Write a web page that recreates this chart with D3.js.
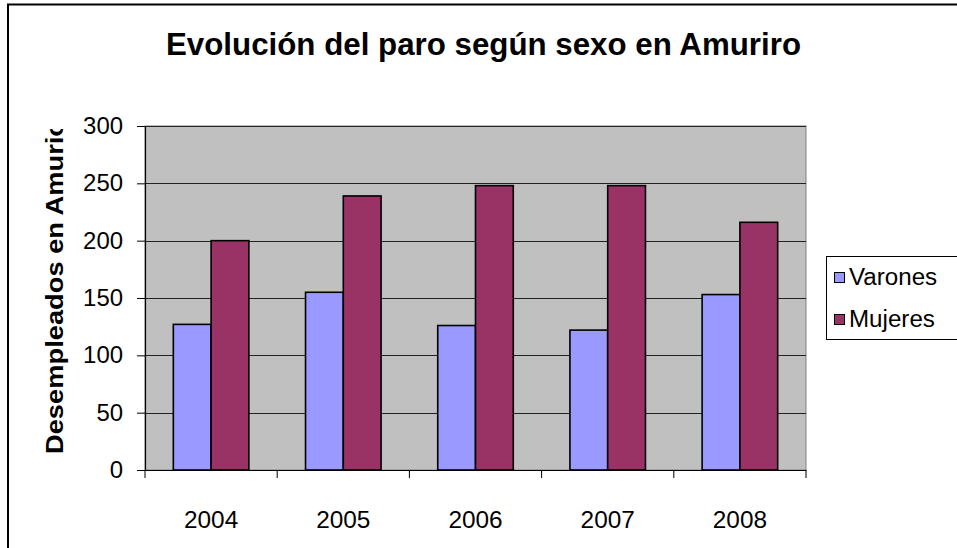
<!DOCTYPE html>
<html>
<head>
<meta charset="utf-8">
<script src="https://cdn.jsdelivr.net/npm/d3@7"></script>
<style>
  html, body { margin: 0; padding: 0; background: #fff; }
  svg { display: block; }
  text { font-family: "Liberation Sans", Arial, sans-serif; }
</style>
</head>
<body>
<svg id="chart" width="957" height="548"></svg>
<script>
const title = "Evolución del paro según sexo en Amuriro";
const yAxisTitle = "Desempleados en Amurio";
const categories = ["2004", "2005", "2006", "2007", "2008"];
const seriesNames = ["Varones", "Mujeres"];
const varones = [127, 155, 126, 122, 153];
const mujeres = [200, 239, 248, 248, 216];
const yTicks = [0, 50, 100, 150, 200, 250, 300];
const colors = ["#9999FF", "#993366"];

const seriesValues = [varones, mujeres];
const data = categories.map((c, i) => ({
  cat: c,
  values: seriesNames.map((s, j) => ({ key: s, value: seriesValues[j][i] }))
}));

const FONT = "Liberation Sans, Arial, sans-serif";
function stretch(sel, f) {
  sel.each(function () {
    const L = this.getComputedTextLength();
    d3.select(this).attr("textLength", L * f).attr("lengthAdjust", "spacingAndGlyphs");
  });
}

const svg = d3.select("#chart");
const W = 957, H = 548;
const plot = { left: 145, right: 806, top: 126, bottom: 470 };

// outer chart border
svg.append("rect")
  .attr("x", 8).attr("y", 4.5)
  .attr("width", W + 20).attr("height", H + 20)
  .attr("fill", "#fff").attr("stroke", "#000").attr("stroke-width", 2);

const x = d3.scaleBand().domain(categories).range([plot.left, plot.right]).paddingInner(0).paddingOuter(0);
const x1 = d3.scaleBand().domain(seriesNames).range([0, x.bandwidth()]).paddingInner(0).paddingOuter(0.75);
const y = d3.scaleLinear().domain([0, 300]).range([plot.bottom, plot.top]);

// plot background
svg.append("rect")
  .attr("x", plot.left).attr("y", plot.top)
  .attr("width", plot.right - plot.left).attr("height", plot.bottom - plot.top)
  .attr("fill", "#C0C0C0").attr("stroke", "#808080").attr("stroke-width", 1);

// gridlines
svg.append("g").selectAll("line")
  .data(yTicks.filter(d => d > 0))
  .join("line")
  .attr("x1", plot.left).attr("x2", plot.right)
  .attr("y1", d => Math.round(y(d)) + 0.5).attr("y2", d => Math.round(y(d)) + 0.5)
  .attr("stroke", "#222").attr("stroke-width", 1);

// bars
const groups = svg.append("g").selectAll("g")
  .data(data).join("g")
  .attr("transform", d => `translate(${x(d.cat)},0)`);
groups.selectAll("rect")
  .data(d => d.values).join("rect")
  .attr("x", d => x1(d.key))
  .attr("y", d => y(d.value))
  .attr("width", x1.bandwidth())
  .attr("height", d => y(0) - y(d.value))
  .attr("fill", (d, i) => colors[i])
  .attr("stroke", "#000").attr("stroke-width", 1.6);

// y axis
const yAxis = d3.axisLeft(y).tickValues(yTicks).tickSize(8).tickPadding(14).tickFormat(d3.format("d"));
const gy = svg.append("g").attr("transform", `translate(${plot.left},0)`).call(yAxis);
gy.attr("font-family", FONT).attr("font-size", 23);
gy.select(".domain").attr("stroke", "#000").attr("stroke-width", 1.2);
gy.selectAll(".tick line").attr("stroke", "#000");
gy.selectAll(".tick text").attr("fill", "#000").call(stretch, 1.04);

// x axis
const xAxis = d3.axisBottom(x).tickSize(0).tickPadding(0);
const gx = svg.append("g").attr("transform", `translate(0,${plot.bottom})`).call(xAxis);
gx.attr("font-family", FONT).attr("font-size", 23);
gx.select(".domain").attr("stroke", "#000").attr("stroke-width", 1.2);
gx.selectAll(".tick text").attr("fill", "#000").attr("dy", null).attr("y", 58)
  .call(stretch, 1.06);
// category boundary ticks
gx.append("g").selectAll("line")
  .data(categories.concat(["end"]))
  .join("line")
  .attr("x1", (d, i) => i < categories.length ? x(d) : plot.right)
  .attr("x2", (d, i) => i < categories.length ? x(d) : plot.right)
  .attr("y1", 0).attr("y2", 8)
  .attr("stroke", "#000");

// title
svg.append("text")
  .attr("x", 483.5).attr("y", 55)
  .attr("text-anchor", "middle")
  .attr("font-size", 31).attr("font-weight", "bold")
  .attr("fill", "#000")
  .attr("textLength", 635).attr("lengthAdjust", "spacingAndGlyphs")
  .text(title);

// y axis title (clipped at top)
svg.append("clipPath").attr("id", "ytclip")
  .append("rect").attr("x", 0).attr("y", 129).attr("width", 120).attr("height", 400);
svg.append("g").attr("clip-path", "url(#ytclip)")
  .append("text")
  .attr("transform", "translate(63,454) rotate(-90)")
  .attr("text-anchor", "start")
  .attr("font-size", 24).attr("font-weight", "bold")
  .attr("fill", "#000")
  .attr("textLength", 334).attr("lengthAdjust", "spacingAndGlyphs")
  .text(yAxisTitle);

// legend
const lg = svg.append("g");
lg.append("rect")
  .attr("x", 826.5).attr("y", 256.5).attr("width", 200).attr("height", 83)
  .attr("fill", "#fff").attr("stroke", "#000").attr("stroke-width", 1);
const items = lg.selectAll("g.item").data(seriesNames).join("g").attr("class", "item")
  .attr("transform", (d, i) => `translate(834,${277 + i * 42})`);
items.append("rect")
  .attr("x", 0.5).attr("y", -4.5).attr("width", 10).attr("height", 10)
  .attr("fill", (d, i) => colors[i]).attr("stroke", "#000").attr("stroke-width", 1);
items.append("text")
  .attr("x", 15).attr("y", 0)
  .attr("dy", "0.35em")
  .attr("font-size", 23).attr("fill", "#000")
  .text(d => d)
  .call(stretch, 1.05);
</script>
</body>
</html>
